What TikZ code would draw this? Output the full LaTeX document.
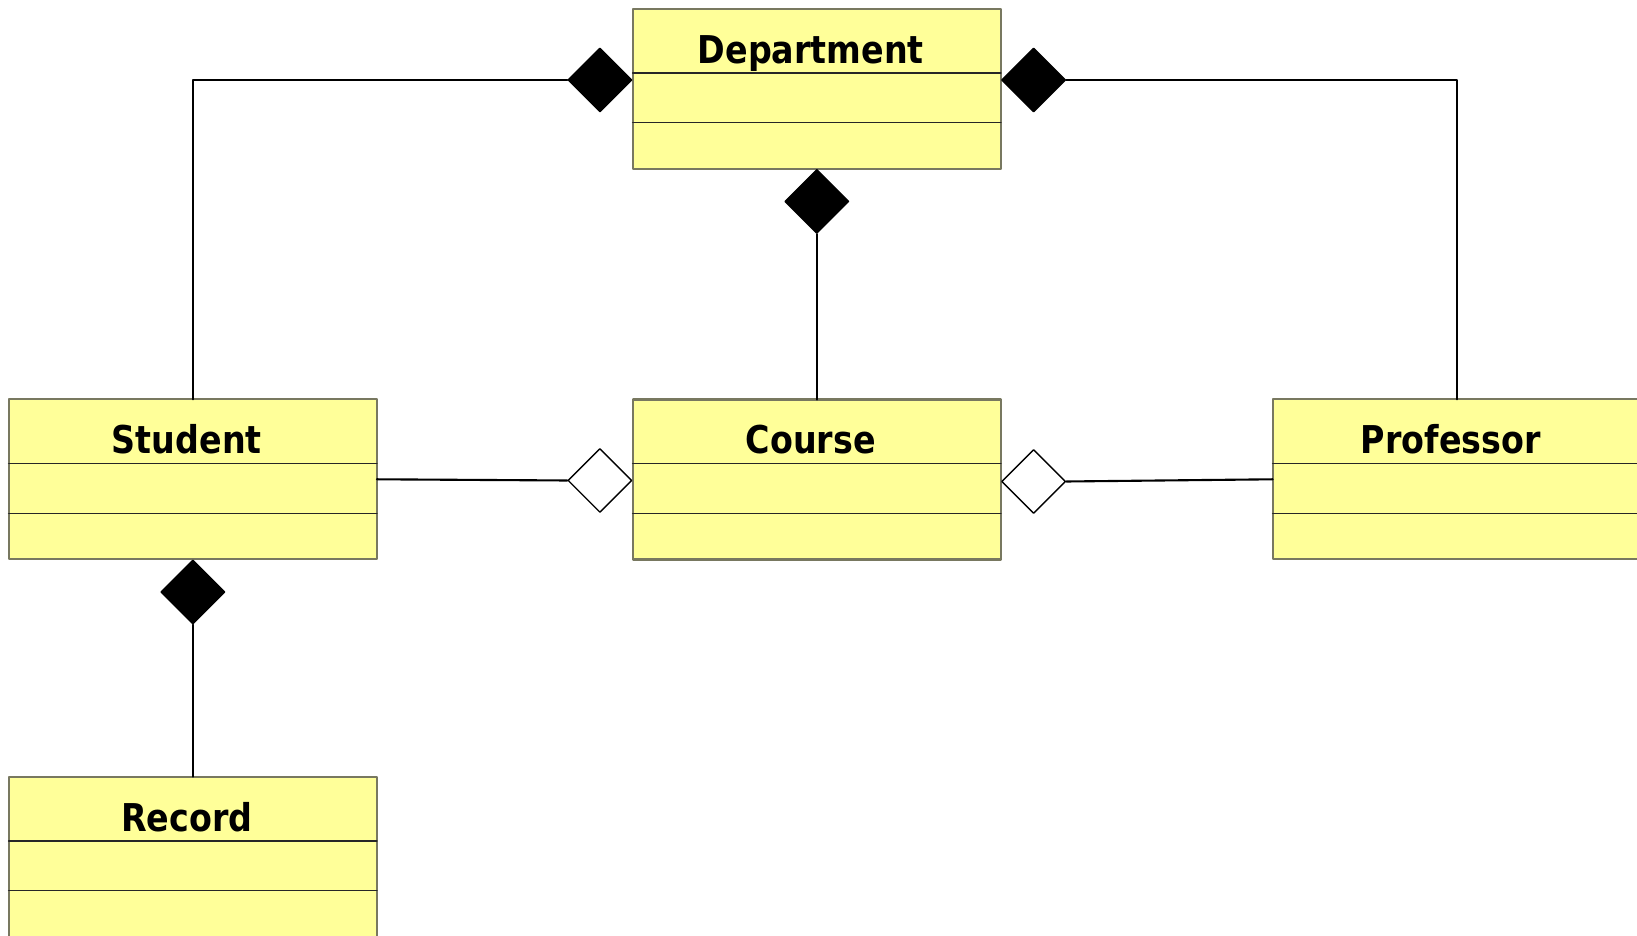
\documentclass[tikz,border=0pt]{standalone}
\usepackage{fontspec}
\setmainfont{DejaVu Sans}[FakeStretch=0.87]
\usepackage{tikz}
\usetikzlibrary{positioning,shapes.geometric}

\definecolor{classfill}{RGB}{255,255,153}
\definecolor{classedge}{RGB}{120,120,96}

\begin{document}
\begin{tikzpicture}[line cap=round, line join=round,
    classbox/.style={draw=classedge, line width=0.6pt, fill=classfill, rectangle,
      minimum width=3.683cm, minimum height=1.6cm, inner sep=0pt, outer sep=0pt},
    classname/.style={anchor=base, inner sep=0pt, font=\fontsize{10.9}{12}\selectfont\bfseries},
    divider/.style={draw=black!85, line width=0.4pt},
    comp/.style={diamond, draw=black, fill=black, line width=0.4pt, inner sep=0pt,
      minimum width=0.64cm, minimum height=0.64cm},
    aggr/.style={comp, fill=white},
    link/.style={draw=black, line width=0.6pt}]
  \useasboundingbox (0,0) rectangle (16.37,-9.36);

  % class boxes
  \node[classbox] (dept) at (8.168,-0.887) {};
  \node[classbox] (student) at (1.928,-4.793) {};
  \node[classbox] (course) at (8.168,-4.795) {};
  \node[classbox] (prof) at (14.568,-4.793) {};
  \node[classbox] (record) at (1.928,-8.567) {};

  \node[classname] (deptname) at ([xshift=-0.06cm,yshift=-0.545cm]dept.north) {Department};
  \node[classname] (studentname) at ([xshift=-0.06cm,yshift=-0.545cm]student.north) {Student};
  \node[classname] (coursename) at ([xshift=-0.06cm,yshift=-0.545cm]course.north) {Course};
  \node[classname] (profname) at ([xshift=-0.06cm,yshift=-0.545cm]prof.north) {Professor};
  \node[classname] (recordname) at ([xshift=-0.06cm,yshift=-0.545cm]record.north) {Record};

  \foreach \c in {dept,student,course,prof,record} {
    \draw[divider] ([yshift=-0.643cm]\c.north west) -- ([yshift=-0.643cm]\c.north east);
    \draw[divider] ([yshift=-1.14cm]\c.north west) -- ([yshift=-1.14cm]\c.north east);
  }

  % diamonds
  \node[comp, anchor=east] (dl) at ([yshift=0.087cm]dept.west) {};
  \node[comp, anchor=west] (dr) at ([yshift=0.087cm]dept.east) {};
  \node[comp, anchor=north] (db) at (dept.south) {};
  \node[comp, anchor=north] (sb) at (student.south) {};
  \node[aggr, anchor=east] (sc) at ([yshift=-0.01cm]course.west) {};
  \node[aggr, anchor=west] (cp) at ([yshift=-0.02cm]course.east) {};

  % associations
  \draw[link] (dl.west) -| (student.north);
  \draw[link] (dr.east) -| (prof.north);
  \draw[link] (db.south) -- (course.north);
  \draw[link] (sb.south) -- (record.north);
  \draw[link] (sc.west) -- (student.east);
  \draw[link] (cp.east) -- (prof.west);
\end{tikzpicture}
\end{document}
